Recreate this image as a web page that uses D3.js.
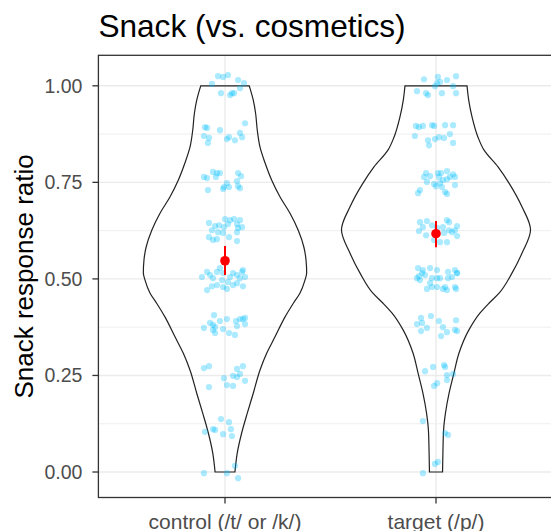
<!DOCTYPE html>
<html>
<head>
<meta charset="utf-8">
<script src="https://cdn.jsdelivr.net/npm/d3@7"></script>
<style>
  body { margin: 0; background: #fff; }
  text { font-family: "Liberation Sans", Arial, sans-serif; }
</style>
</head>
<body>
<div id="chart"></div>
<script>
var w = 551,
    h = 531,
    m = [55.3, -11.6, 33.5, 98.4]; // top right bottom left (panel runs off the right edge)

var title = "Snack (vs. cosmetics)",
    yTitle = "Snack response ratio",
    categories = ["control (/t/ or /k/)", "target (/p/)"],
    yTicks = [0, 0.25, 0.5, 0.75, 1],
    yMinor = [0.125, 0.375, 0.625, 0.875];

// mean and interval per category
var means = [0.547, 0.617],
    lower = [0.510, 0.582],
    upper = [0.585, 0.650];

// violin outline: [response, half width in category units]
var controlViolin = [
  [1.0, 0.115], [0.963, 0.134], [0.929, 0.145], [0.885, 0.153], [0.841, 0.166],
  [0.8, 0.19], [0.756, 0.221], [0.712, 0.261], [0.67, 0.308], [0.626, 0.347],
  [0.582, 0.374], [0.549, 0.384], [0.515, 0.387], [0.497, 0.379], [0.463, 0.355],
  [0.437, 0.324], [0.401, 0.284], [0.35, 0.237], [0.308, 0.198], [0.264, 0.166],
  [0.204, 0.134], [0.153, 0.106], [0.101, 0.079], [0.049, 0.058], [0.0, 0.047]
];
var targetViolin = [
  [1.0, 0.147], [0.963, 0.155], [0.919, 0.171], [0.867, 0.199], [0.834, 0.227],
  [0.79, 0.294], [0.748, 0.346], [0.686, 0.408], [0.627, 0.448], [0.567, 0.408],
  [0.515, 0.36], [0.463, 0.299], [0.437, 0.251], [0.412, 0.209], [0.368, 0.156],
  [0.308, 0.109], [0.256, 0.085], [0.204, 0.062], [0.153, 0.045], [0.109, 0.036],
  [0.057, 0.033], [0.0, 0.031]
];

// jittered responses: [horizontal jitter in category units, response]
var controlPoints = [
  [-0.033, 1.025], [-0.009, 1.023], [0.014, 1.028], [0.062, 1.015], [0.09, 1.007], [-0.062, 1.005],
  [0.071, 0.994], [-0.019, 0.981], [0.024, 0.976], [0.043, 0.981], [0.033, 0.981],
  [-0.095, 0.893], [-0.085, 0.891], [-0.024, 0.885], [0.095, 0.903], [0.071, 0.878], [0.081, 0.867],
  [-0.1, 0.87], [-0.076, 0.865], [-0.081, 0.852], [0.019, 0.867], [0.047, 0.859], [0.009, 0.862],
  [-0.1, 0.764], [-0.085, 0.761], [-0.057, 0.777], [-0.038, 0.774], [-0.024, 0.774], [-0.043, 0.764],
  [0.062, 0.774], [0.076, 0.766], [0.009, 0.748], [-0.005, 0.738], [-0.009, 0.733], [0.019, 0.738],
  [0.057, 0.753], [0.062, 0.74], [0.071, 0.735], [-0.081, 0.73],
  [0, 0.655], [0.024, 0.652], [0.043, 0.655], [0.071, 0.652], [-0.076, 0.645], [-0.047, 0.637],
  [-0.028, 0.639], [-0.005, 0.634], [0.014, 0.642], [0.057, 0.642], [0.081, 0.634], [-0.062, 0.626],
  [-0.033, 0.621], [-0.009, 0.619], [0.057, 0.621], [-0.076, 0.608], [-0.057, 0.601], [-0.038, 0.603],
  [0.019, 0.608], [0.057, 0.598], [0.062, 0.632],
  [-0.085, 0.518], [-0.038, 0.518], [-0.009, 0.515], [0.038, 0.515], [0.057, 0.51], [0.081, 0.518],
  [-0.071, 0.51], [-0.109, 0.505], [-0.057, 0.502], [-0.014, 0.497], [0.014, 0.492], [0.071, 0.502],
  [0.095, 0.505], [-0.062, 0.481], [-0.038, 0.484], [-0.009, 0.479], [0.009, 0.474], [0.038, 0.484],
  [0.085, 0.481], [-0.085, 0.471], [0.057, 0.489], [0.024, 0.505], [-0.024, 0.528], [0.085, 0.523],
  [-0.052, 0.406], [-0.071, 0.386], [-0.057, 0.381], [-0.024, 0.391], [0.009, 0.396], [0.052, 0.391],
  [0.071, 0.396], [0.095, 0.399], [-0.1, 0.373], [-0.047, 0.375], [-0.047, 0.36], [-0.009, 0.37],
  [0.019, 0.36], [0.047, 0.355], [0.057, 0.378], [0.095, 0.383], [0.085, 0.396], [-0.057, 0.368],
  [-0.1, 0.269], [-0.076, 0.274], [0.057, 0.267], [0.085, 0.274], [0.038, 0.249], [0.057, 0.246],
  [0.071, 0.254], [-0.005, 0.243], [0.009, 0.225], [0.038, 0.223], [0.095, 0.236], [-0.076, 0.22],
  [-0.019, 0.137], [0.019, 0.129], [-0.057, 0.111], [-0.047, 0.109], [-0.095, 0.104], [0.028, 0.111],
  [-0.009, 0.098], [0.033, 0.093],
  [-0.1, -0.003], [0.009, -0.003], [0.047, 0.016], [0.062, -0.016]
];
var targetPoints = [
  [-0.057, 1.017], [0.009, 1.023], [0.052, 1.015], [0.095, 1.025], [0.005, 1.007], [0.019, 1.01],
  [0.081, 0.999], [-0.09, 0.986], [-0.047, 0.981], [-0.038, 0.976], [0.028, 0.981], [0.095, 0.981],
  [-0.005, 0.999],
  [-0.095, 0.896], [-0.081, 0.893], [-0.062, 0.896], [-0.019, 0.898], [-0.009, 0.896], [0.043, 0.898],
  [0.081, 0.898], [-0.1, 0.87], [-0.038, 0.859], [-0.005, 0.862], [0.014, 0.867], [0.038, 0.865],
  [0.066, 0.875], [-0.033, 0.846], [0.081, 0.852],
  [-0.047, 0.774], [-0.057, 0.764], [-0.028, 0.766], [0.009, 0.774], [0.024, 0.774], [0.052, 0.779],
  [0.081, 0.771], [0.09, 0.764], [-0.043, 0.751], [-0.009, 0.746], [0.019, 0.748], [0.033, 0.756],
  [0.052, 0.758], [0.09, 0.743], [0, 0.74], [0.028, 0.738], [-0.076, 0.73], [-0.085, 0.722],
  [0.043, 0.725], [0.052, 0.72], [0.014, 0.764], [0.066, 0.764],
  [-0.076, 0.647], [-0.043, 0.65], [-0.081, 0.624], [-0.062, 0.634], [-0.019, 0.639], [0, 0.619],
  [0.052, 0.652], [0.062, 0.647], [0.1, 0.637], [0.062, 0.626], [0.076, 0.621], [0.09, 0.626],
  [-0.009, 0.601], [0.019, 0.595], [0.052, 0.595], [0.1, 0.611], [-0.047, 0.613], [0.005, 0.632],
  [0.038, 0.619], [0.033, 0.634],
  [-0.09, 0.502], [-0.076, 0.497], [-0.066, 0.515], [-0.052, 0.51], [-0.028, 0.489], [-0.019, 0.502],
  [0.005, 0.502], [0.019, 0.502], [0.057, 0.502], [0.076, 0.505], [0.1, 0.515], [-0.043, 0.474],
  [-0.019, 0.479], [0.005, 0.479], [0.033, 0.474], [0.052, 0.471], [0.09, 0.479], [0.095, 0.474],
  [-0.081, 0.507], [0.043, 0.479], [-0.085, 0.528], [-0.062, 0.523], [-0.028, 0.528], [0.005, 0.523],
  [0.057, 0.518], [0.09, 0.523], [0.1, 0.515],
  [-0.071, 0.399], [-0.024, 0.404], [0.014, 0.391], [0.095, 0.393], [-0.09, 0.383], [-0.066, 0.386],
  [-0.043, 0.373], [-0.071, 0.365], [0.033, 0.375], [0.052, 0.362], [0.024, 0.352], [0.09, 0.368],
  [0.1, 0.365],
  [-0.052, 0.261], [-0.014, 0.272], [0.038, 0.277], [0.043, 0.272], [0.052, 0.251], [0.081, 0.254],
  [0.052, 0.238], [0.005, 0.23], [-0.009, 0.223],
  [-0.062, 0.132], [0.043, 0.101], [0.057, 0.096],
  [-0.062, -0.003], [-0.005, 0.021], [0.009, 0.026]
];

var violins = [controlViolin, targetViolin],
    points = [controlPoints, targetPoints];

var pw = w - m[1] - m[3],
    ph = h - m[0] - m[2];

// discrete axis: categories at 1 and 2, 0.6 expansion each side
var x = d3.scaleLinear().domain([0.4, 2.6]).range([0, pw]);
var y = d3.scaleLinear().domain([-0.066, 1.079]).range([ph, 0]);

var svg = d3.select("#chart").append("svg")
    .attr("width", w)
    .attr("height", h);

var vis = svg.append("g")
    .attr("transform", "translate(" + m[3] + "," + m[0] + ")");

// grid
vis.selectAll("line.minor")
    .data(yMinor)
  .enter().append("line")
    .attr("x1", 0).attr("x2", pw)
    .attr("y1", y).attr("y2", y)
    .attr("stroke", "#EBEBEB")
    .attr("stroke-width", 0.8);

vis.selectAll("line.major")
    .data(yTicks)
  .enter().append("line")
    .attr("x1", 0).attr("x2", pw)
    .attr("y1", y).attr("y2", y)
    .attr("stroke", "#EBEBEB")
    .attr("stroke-width", 1.4);

vis.selectAll("line.vgrid")
    .data(categories)
  .enter().append("line")
    .attr("x1", function(d, i) { return x(i + 1); })
    .attr("x2", function(d, i) { return x(i + 1); })
    .attr("y1", 0).attr("y2", ph)
    .attr("stroke", "#EBEBEB")
    .attr("stroke-width", 1.4);

// violins
violins.forEach(function(v, i) {
  var area = d3.area()
      .curve(d3.curveMonotoneY)
      .y(function(d) { return y(d[0]); })
      .x0(function(d) { return x(i + 1 - d[1]); })
      .x1(function(d) { return x(i + 1 + d[1]); });
  vis.append("path")
      .datum(v)
      .attr("d", area)
      .attr("fill", "none")
      .attr("stroke", "#222222")
      .attr("stroke-width", 1.2);
});

// jittered points
points.forEach(function(p, i) {
  vis.append("g").selectAll("circle")
      .data(p)
    .enter().append("circle")
      .attr("cx", function(d) { return x(i + 1 + d[0]); })
      .attr("cy", function(d) { return y(d[1]); })
      .attr("r", 3.1)
      .attr("fill", "#00BFFF")
      .attr("fill-opacity", 0.33);
});

// mean + interval
vis.selectAll("line.ci")
    .data(means)
  .enter().append("line")
    .attr("x1", function(d, i) { return x(i + 1); })
    .attr("x2", function(d, i) { return x(i + 1); })
    .attr("y1", function(d, i) { return y(lower[i]); })
    .attr("y2", function(d, i) { return y(upper[i]); })
    .attr("stroke", "#FF0000")
    .attr("stroke-width", 2);

vis.selectAll("circle.mean")
    .data(means)
  .enter().append("circle")
    .attr("cx", function(d, i) { return x(i + 1); })
    .attr("cy", y)
    .attr("r", 4.8)
    .attr("fill", "#FF0000");

// panel border
vis.append("rect")
    .attr("width", pw)
    .attr("height", ph)
    .attr("fill", "none")
    .attr("stroke", "#333333")
    .attr("stroke-width", 1.3);

// y axis
var yAxis = vis.append("g");
yAxis.selectAll("line")
    .data(yTicks)
  .enter().append("line")
    .attr("x1", -6).attr("x2", 0)
    .attr("y1", y).attr("y2", y)
    .attr("stroke", "#333333")
    .attr("stroke-width", 1.3);
yAxis.selectAll("text")
    .data(yTicks)
  .enter().append("text")
    .attr("x", -16)
    .attr("y", y)
    .attr("dy", "0.36em")
    .attr("text-anchor", "end")
    .attr("fill", "#4D4D4D")
    .style("font-size", "19.5px")
    .text(function(d) { return d3.format(".2f")(d); });

// x axis
var xAxis = vis.append("g").attr("transform", "translate(0," + ph + ")");
xAxis.selectAll("line")
    .data(categories)
  .enter().append("line")
    .attr("x1", function(d, i) { return x(i + 1); })
    .attr("x2", function(d, i) { return x(i + 1); })
    .attr("y1", 0).attr("y2", 6)
    .attr("stroke", "#333333")
    .attr("stroke-width", 1.3);
xAxis.selectAll("text")
    .data(categories)
  .enter().append("text")
    .attr("x", function(d, i) { return x(i + 1); })
    .attr("y", 31.5)
    .attr("text-anchor", "middle")
    .attr("fill", "#4D4D4D")
    .style("font-size", "21px")
    .text(function(d) { return d; });

// titles
svg.append("text")
    .attr("transform", "translate(33," + (m[0] + ph / 2) + ") rotate(-90)")
    .attr("text-anchor", "middle")
    .attr("fill", "#000")
    .style("font-size", "26px")
    .text(yTitle);

svg.append("text")
    .attr("x", m[3])
    .attr("y", 37)
    .attr("fill", "#000")
    .style("font-size", "31.6px")
    .text(title);
</script>
</body>
</html>
